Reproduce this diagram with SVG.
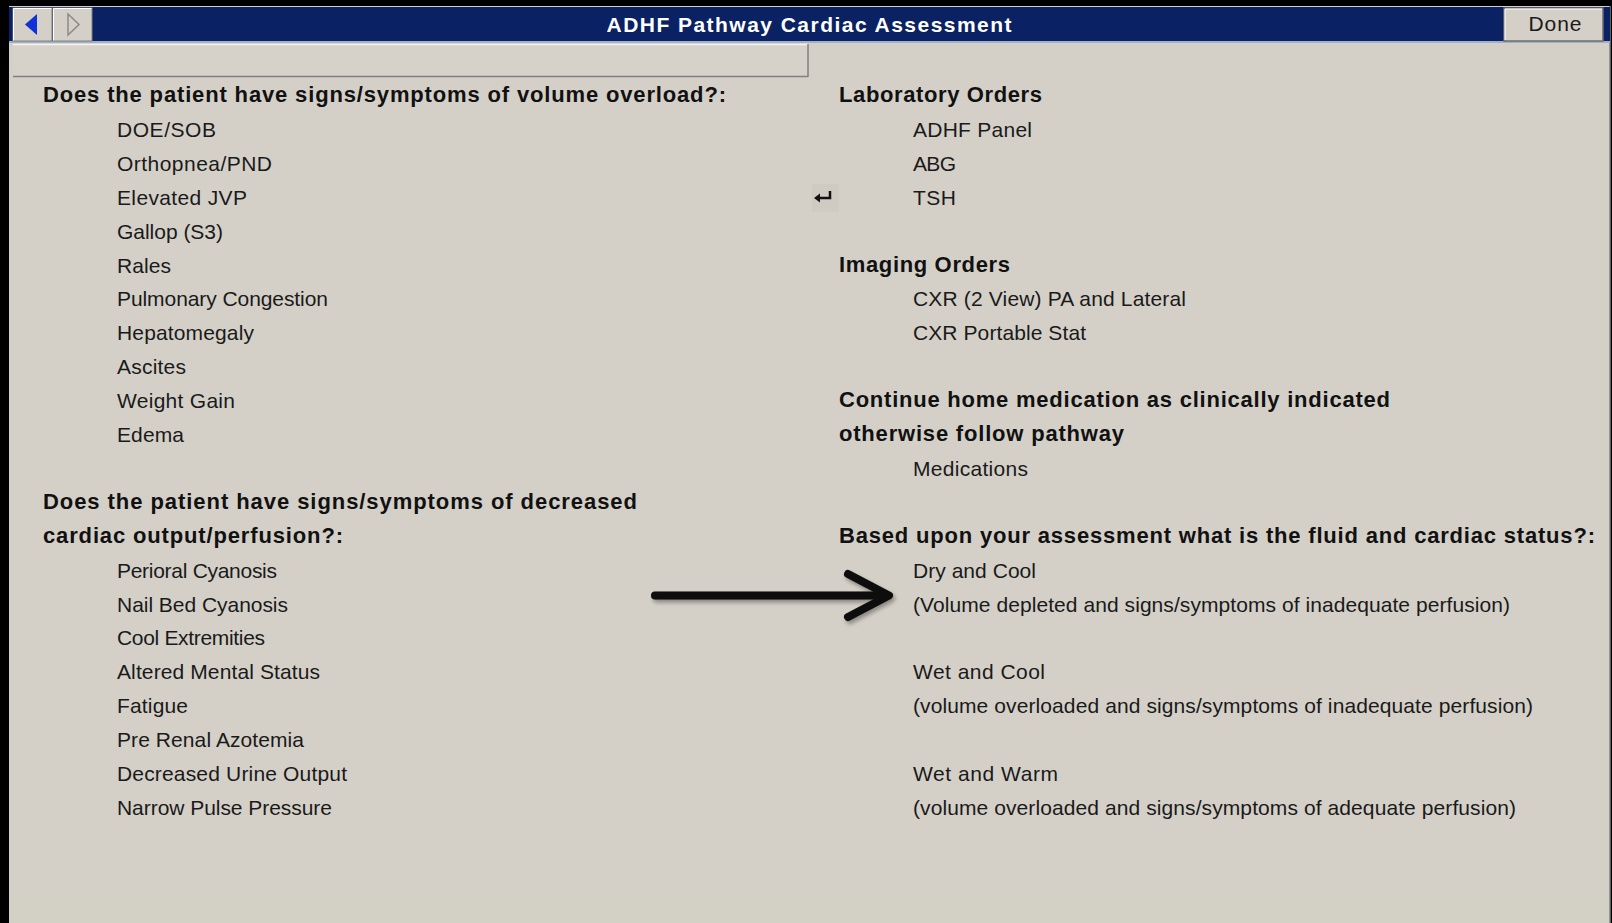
<svg xmlns="http://www.w3.org/2000/svg" width="1612" height="923" viewBox="0 0 1612 923">
<style>
.h{font-family:"Liberation Sans",Arial,sans-serif;font-weight:bold;font-size:22px;fill:#111}
.t{font-family:"Liberation Sans",Arial,sans-serif;font-size:21px;fill:#1a1a1a}
.title{font-family:"Liberation Sans",Arial,sans-serif;font-weight:bold;font-size:21px;fill:#fff}
</style>
<defs>
<filter id="sh" x="-10%" y="-50%" width="120%" height="200%">
<feGaussianBlur in="SourceAlpha" stdDeviation="2"/>
<feOffset dx="2" dy="3" result="b"/>
<feComponentTransfer><feFuncA type="linear" slope="0.35"/></feComponentTransfer>
<feMerge><feMergeNode/><feMergeNode in="SourceGraphic"/></feMerge>
</filter>
</defs>
<rect x="0" y="0" width="1612" height="923" fill="#000"/>
<rect x="9" y="6" width="1601" height="917" fill="#d4d0c8"/>
<rect x="9" y="893" width="1601" height="30" fill="#d3d1c6"/>
<line x1="1610" y1="6" x2="1610" y2="923" stroke="#808080" stroke-width="1.5"/>
<g id="titlebar">
<rect x="9" y="7" width="1601" height="35" fill="#0a2164"/>
<rect x="9" y="41" width="1601" height="2" fill="#9fb0c8"/>
<text class="title" x="809" y="32" text-anchor="middle" textLength="405">ADHF Pathway Cardiac Assessment</text>
</g>
<g id="nav-back">
<rect x="13" y="8" width="39" height="33" fill="#d4d0c8" stroke="#808080" stroke-width="1"/>
<line x1="13.5" y1="8.5" x2="51.5" y2="8.5" stroke="#fff"/>
<line x1="13.5" y1="8.5" x2="13.5" y2="40.5" stroke="#fff"/>
<polygon points="25,24.5 37,14 37,35" fill="#1030d8"/>
</g>
<g id="nav-forward">
<rect x="53" y="8" width="39" height="33" fill="#d4d0c8" stroke="#808080" stroke-width="1"/>
<line x1="53.5" y1="8.5" x2="91.5" y2="8.5" stroke="#fff"/>
<line x1="53.5" y1="8.5" x2="53.5" y2="40.5" stroke="#fff"/>
<polygon points="68,14 79,24.5 68,35" fill="none" stroke="#8a8a8a" stroke-width="1.5"/>
</g>
<g id="done-button">
<rect x="1504" y="8" width="99" height="33" fill="#d4d0c8" stroke="#6e6e6e" stroke-width="1.5"/>
<line x1="1505" y1="9" x2="1602" y2="9" stroke="#fff"/>
<line x1="1505" y1="9" x2="1505" y2="40" stroke="#fff"/>
<text class="t" x="1555" y="31" text-anchor="middle" textLength="53">Done</text>
</g>
<g id="search-box">
<rect x="13" y="44" width="795" height="33" fill="#d6d2ca"/>
<line x1="13" y1="44.5" x2="808" y2="44.5" stroke="#f4f2ee" stroke-width="1.5"/>
<line x1="13" y1="76.5" x2="808" y2="76.5" stroke="#808080" stroke-width="1.5"/>
<line x1="808" y1="44" x2="808" y2="77" stroke="#808080" stroke-width="1.5"/>
</g>
<g id="volume-overload">
<text class="h" x="43" y="102" textLength="683">Does the patient have signs/symptoms of volume overload?:</text>
<text class="t" x="117" y="137" textLength="99">DOE/SOB</text>
<text class="t" x="117" y="171" textLength="155">Orthopnea/PND</text>
<text class="t" x="117" y="205" textLength="130">Elevated JVP</text>
<text class="t" x="117" y="239" textLength="106">Gallop (S3)</text>
<text class="t" x="117" y="273" textLength="54">Rales</text>
<text class="t" x="117" y="306" textLength="211">Pulmonary Congestion</text>
<text class="t" x="117" y="340" textLength="137">Hepatomegaly</text>
<text class="t" x="117" y="374" textLength="69">Ascites</text>
<text class="t" x="117" y="408" textLength="118">Weight Gain</text>
<text class="t" x="117" y="442" textLength="67">Edema</text>
</g>
<g id="decreased-output">
<text class="h" x="43" y="509" textLength="594">Does the patient have signs/symptoms of decreased</text>
<text class="h" x="43" y="543" textLength="300">cardiac output/perfusion?:</text>
<text class="t" x="117" y="578" textLength="160">Perioral Cyanosis</text>
<text class="t" x="117" y="612" textLength="171">Nail Bed Cyanosis</text>
<text class="t" x="117" y="645" textLength="148">Cool Extremities</text>
<text class="t" x="117" y="679" textLength="203">Altered Mental Status</text>
<text class="t" x="117" y="713" textLength="71">Fatigue</text>
<text class="t" x="117" y="747" textLength="187">Pre Renal Azotemia</text>
<text class="t" x="117" y="781" textLength="230">Decreased Urine Output</text>
<text class="t" x="117" y="815" textLength="215">Narrow Pulse Pressure</text>
</g>
<g id="lab-orders">
<text class="h" x="839" y="102" textLength="203">Laboratory Orders</text>
<text class="t" x="913" y="137" textLength="119">ADHF Panel</text>
<text class="t" x="913" y="171" textLength="43">ABG</text>
<text class="t" x="913" y="205" textLength="43">TSH</text>
</g>
<g id="return-icon">
<rect x="812" y="184" width="27" height="28" fill="#cfcbc3"/>
<path d="M814,198 L820,193.5 L820,202.5 Z" fill="#111"/>
<path d="M819,198 H830 V191" fill="none" stroke="#111" stroke-width="2.5"/>
</g>
<g id="imaging-orders">
<text class="h" x="839" y="272" textLength="171">Imaging Orders</text>
<text class="t" x="913" y="306" textLength="273">CXR (2 View) PA and Lateral</text>
<text class="t" x="913" y="340" textLength="173">CXR Portable Stat</text>
</g>
<g id="home-medication">
<text class="h" x="839" y="407" textLength="551">Continue home medication as clinically indicated</text>
<text class="h" x="839" y="441" textLength="285">otherwise follow pathway</text>
<text class="t" x="913" y="476" textLength="115">Medications</text>
</g>
<g id="fluid-status">
<text class="h" x="839" y="543" textLength="756">Based upon your assessment what is the fluid and cardiac status?:</text>
<text class="t" x="913" y="578" textLength="123">Dry and Cool</text>
<text class="t" x="913" y="612" textLength="597">(Volume depleted and signs/symptoms of inadequate perfusion)</text>
<text class="t" x="913" y="679" textLength="132">Wet and Cool</text>
<text class="t" x="913" y="713" textLength="620">(volume overloaded and signs/symptoms of inadequate perfusion)</text>
<text class="t" x="913" y="781" textLength="145">Wet and Warm</text>
<text class="t" x="913" y="815" textLength="603">(volume overloaded and signs/symptoms of adequate perfusion)</text>
</g>
<g id="connectors">
<g filter="url(#sh)" fill="none" stroke="#0a0a0a" stroke-width="8" stroke-linecap="round" stroke-linejoin="round">
<line x1="655" y1="595.5" x2="885" y2="595.5"/>
<polyline points="848,574 889,595.5 848,617"/>
</g>
</g>
</svg>
